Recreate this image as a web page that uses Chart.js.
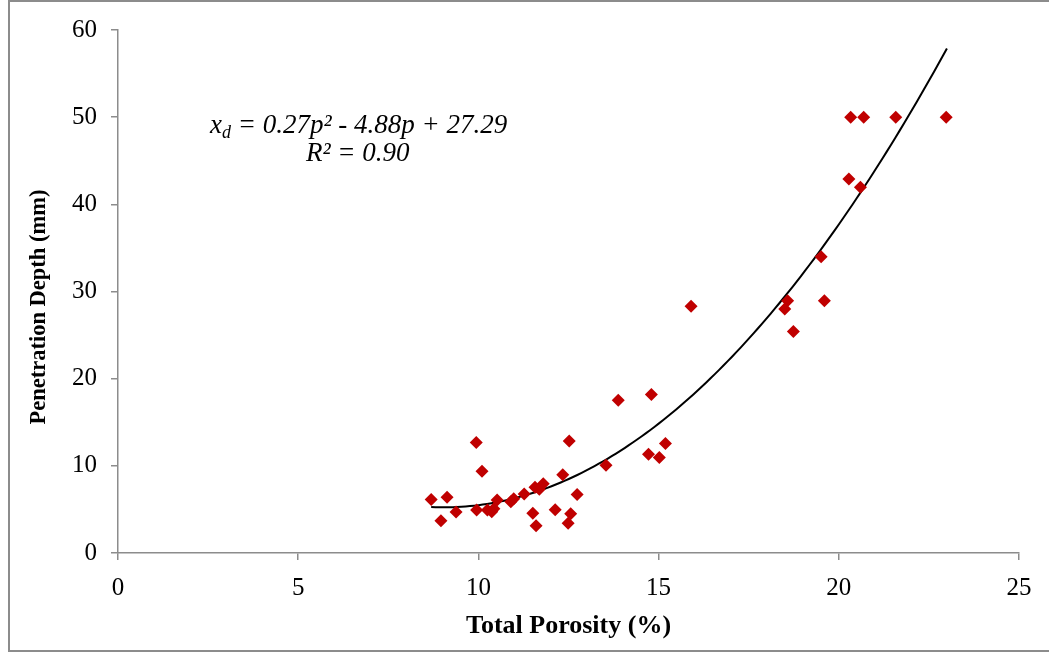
<!DOCTYPE html>
<html>
<head>
<meta charset="utf-8">
<script src="https://cdn.jsdelivr.net/npm/chart.js@4/dist/chart.umd.min.js"></script>
<style>
  html, body { margin: 0; padding: 0; background: #ffffff; }
  #wrap { width: 1049px; height: 653px; position: relative; }
</style>
</head>
<body>
<div id="wrap"><canvas id="chart" width="1049" height="653"></canvas></div>
<script>
// Measured samples: total porosity (%) and penetration depth (mm)
const porosity = [
  8.69, 8.96, 9.13, 9.38, 9.94, 9.95, 10.10, 10.25, 10.37, 10.43,
  10.52, 10.90, 10.98, 11.27, 11.51, 11.60, 11.57, 11.69, 11.80, 12.13,
  12.34, 12.52, 12.56, 12.49, 12.74, 13.54, 13.88, 14.80, 14.72, 15.02,
  15.19, 15.90, 18.50, 18.58, 18.74, 19.51, 19.60, 20.28, 20.60, 20.33,
  20.69, 21.58, 22.98
];
const depth = [
  6.15, 3.70, 6.41, 4.70, 12.68, 4.93, 9.39, 4.93, 4.73, 5.07,
  6.07, 5.88, 6.22, 6.76, 4.55, 3.13, 7.53, 7.30, 7.94, 4.96,
  8.97, 12.86, 4.50, 3.40, 6.72, 10.08, 17.53, 18.18, 11.34, 10.96,
  12.57, 28.30, 27.99, 28.95, 25.40, 33.99, 28.95, 42.92, 41.96, 50,
  50, 50, 50
];

// Quadratic fit x_d = a p^2 + b p + c, drawn over the measured porosity range
const fitCoefficients = [0.27, -4.88, 27.29];
const fitR2 = 0.90;
const fitRange = [8.69, 23.0];

const xTicks = [0, 5, 10, 15, 20, 25];
const yTicks = [0, 10, 20, 30, 40, 50, 60];

const xTitle = 'Total Porosity (%)';
const yTitle = 'Penetration Depth (mm)';

const points = porosity.map((p, i) => ({ x: p, y: depth[i] }));

const fitLine = [];
const steps = 120;
for (let i = 0; i <= steps; i++) {
  const p = fitRange[0] + (fitRange[1] - fitRange[0]) * i / steps;
  const [a, b, c] = fitCoefficients;
  fitLine.push({ x: p, y: a * p * p + b * p + c });
}

const axisGray = '#8c8c8c';
const serif = '"Liberation Serif", "Times New Roman", serif';

// Frame around the whole figure
const framePlugin = {
  id: 'frame',
  beforeDraw(chart) {
    const ctx = chart.ctx;
    ctx.save();
    ctx.fillStyle = '#ffffff';
    ctx.fillRect(0, 0, chart.width, chart.height);
    ctx.strokeStyle = axisGray;
    ctx.lineWidth = 2;
    ctx.beginPath();
    ctx.moveTo(1060, 1);
    ctx.lineTo(9, 1);
    ctx.lineTo(9, 651);
    ctx.lineTo(1060, 651);
    ctx.stroke();
    ctx.restore();
  }
};

// Vertical axis title, fit equation and R² text
const textPlugin = {
  id: 'texts',
  afterDatasetsDraw(chart) {
    const ctx = chart.ctx;
    ctx.save();
    ctx.fillStyle = '#000000';

    // y-axis title
    ctx.save();
    ctx.translate(39, 307);
    ctx.rotate(-Math.PI / 2);
    ctx.font = 'bold 22.5px ' + serif;
    ctx.textAlign = 'center';
    ctx.textBaseline = 'middle';
    ctx.fillText(yTitle, 0, 0);
    ctx.restore();

    ctx.textBaseline = 'alphabetic';
    ctx.textAlign = 'left';
    const big = 'italic 27px ' + serif;
    const small = 'italic 18px ' + serif;
    let x = 210;
    const y1 = 133;
    ctx.font = big;
    ctx.fillText('x', x, y1);
    x += ctx.measureText('x').width;
    ctx.font = small;
    ctx.fillText('d', x, y1 + 5);
    x += ctx.measureText('d').width;
    ctx.font = big;
    const rest = ' = ' + fitCoefficients[0].toFixed(2) + 'p\u00B2 - ' +
      Math.abs(fitCoefficients[1]).toFixed(2) + 'p + ' + fitCoefficients[2].toFixed(2);
    ctx.fillText(rest, x, y1);
    ctx.fillText('R\u00B2 = ' + fitR2.toFixed(2), 306, 161);
    ctx.restore();
  }
};

new Chart(document.getElementById('chart'), {
  type: 'scatter',
  data: {
    datasets: [
      {
        label: 'Penetration depth',
        data: points,
        pointStyle: 'rectRot',
        pointRadius: 6.5,
        pointHoverRadius: 6.5,
        backgroundColor: '#C00000',
        borderColor: '#C00000',
        borderWidth: 0,
        order: 1
      },
      {
        label: 'Fit',
        type: 'line',
        data: fitLine,
        borderColor: '#000000',
        borderWidth: 2,
        pointRadius: 0,
        fill: false,
        tension: 0,
        order: 2
      }
    ]
  },
  options: {
    responsive: false,
    animation: false,
    events: [],
    layout: { padding: { top: 30, right: 30, left: 0, bottom: 0 } },
    plugins: {
      legend: { display: false },
      tooltip: { enabled: false }
    },
    scales: {
      x: {
        type: 'linear',
        min: 0,
        max: 25,
        afterBuildTicks(scale) { scale.ticks = xTicks.map(v => ({ value: v })); },
        afterFit(scale) { scale.height = 100; },
        grid: { drawOnChartArea: false, drawTicks: true, tickLength: 7, color: axisGray, lineWidth: 1.5 },
        border: { display: true, color: axisGray, width: 1.5 },
        ticks: { color: '#000000', padding: 13, font: { family: serif, size: 25 } },
        title: {
          display: true,
          text: xTitle,
          color: '#000000',
          font: { family: serif, size: 26, weight: 'bold' },
          padding: { top: 0, bottom: 11 }
        }
      },
      y: {
        type: 'linear',
        min: 0,
        max: 60,
        afterBuildTicks(scale) { scale.ticks = yTicks.map(v => ({ value: v })); },
        afterFit(scale) { scale.width = 118; },
        grid: { drawOnChartArea: false, drawTicks: true, tickLength: 7, color: axisGray, lineWidth: 1.5 },
        border: { display: true, color: axisGray, width: 1.5 },
        ticks: { color: '#000000', padding: 14, font: { family: serif, size: 25 } }
      }
    }
  },
  plugins: [framePlugin, textPlugin]
});
</script>
</body>
</html>
